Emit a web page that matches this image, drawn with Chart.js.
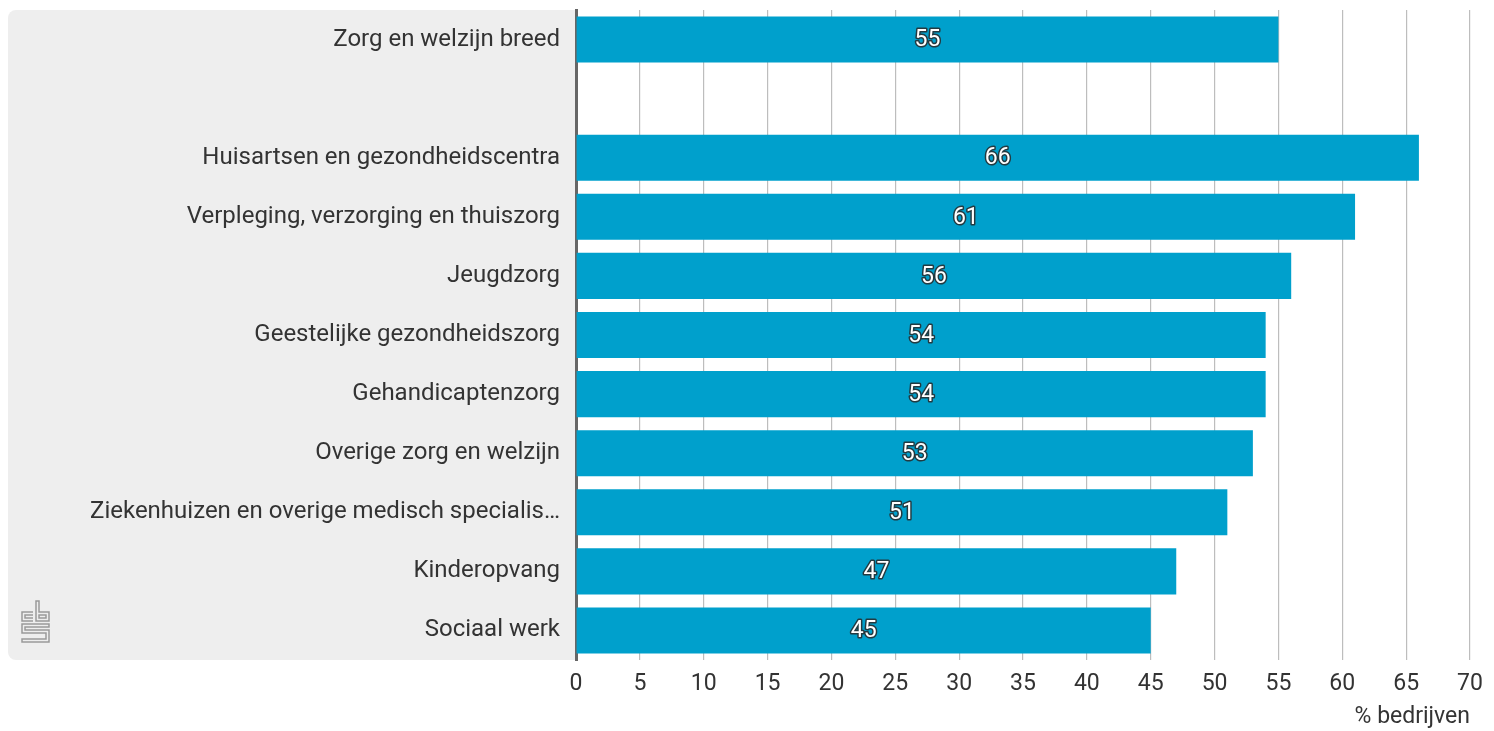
<!DOCTYPE html>
<html>
<head>
<meta charset="utf-8">
<script src="https://cdn.jsdelivr.net/npm/chart.js@4/dist/chart.umd.min.js"></script>
<style>
html,body{margin:0;padding:0;background:#fff;}
#wrap{position:relative;width:1494px;height:731px;}
</style>
</head>
<body>
<div id="wrap"><canvas id="c" width="1494" height="731"></canvas></div>
<script>
const categories = [
  'Zorg en welzijn breed',
  '',
  'Huisartsen en gezondheidscentra',
  'Verpleging, verzorging en thuiszorg',
  'Jeugdzorg',
  'Geestelijke gezondheidszorg',
  'Gehandicaptenzorg',
  'Overige zorg en welzijn',
  'Ziekenhuizen en overige medisch specialis…',
  'Kinderopvang',
  'Sociaal werk'
];
const values = [55, null, 66, 61, 56, 54, 54, 53, 51, 47, 45];
const axisTitle = '% bedrijven';

const FONT = 'Roboto, "Open Sans", sans-serif';

const panelPlugin = {
  id: 'panel',
  beforeDraw(chart) {
    const ctx = chart.ctx, a = chart.chartArea;
    const x0 = 8, y0 = a.top, x1 = a.left, y1 = a.bottom, r = 8;
    ctx.save();
    ctx.fillStyle = '#eeeeee';
    ctx.beginPath();
    ctx.moveTo(x0 + r, y0);
    ctx.lineTo(x1, y0);
    ctx.lineTo(x1, y1);
    ctx.lineTo(x0 + r, y1);
    ctx.arcTo(x0, y1, x0, y1 - r, r);
    ctx.lineTo(x0, y0 + r);
    ctx.arcTo(x0, y0, x0 + r, y0, r);
    ctx.closePath();
    ctx.fill();
    // cbs logo approximation
    ctx.strokeStyle = '#9a9a9a';
    ctx.lineWidth = 1.5;
    const lx = 22, ly = 601;
    ctx.beginPath();
    ctx.moveTo(33, ly + 11); ctx.lineTo(lx, ly + 11); ctx.lineTo(lx, ly + 20); ctx.lineTo(33, ly + 20);
    ctx.moveTo(33, ly + 14); ctx.lineTo(25, ly + 14); ctx.lineTo(25, ly + 17); ctx.lineTo(33, ly + 17);
    ctx.moveTo(36, ly); ctx.lineTo(39, ly); ctx.lineTo(39, ly + 11); ctx.lineTo(49, ly + 11); ctx.lineTo(49, ly + 20); ctx.lineTo(36, ly + 20); ctx.closePath();
    ctx.moveTo(39, ly + 14); ctx.lineTo(46, ly + 14); ctx.lineTo(46, ly + 17); ctx.lineTo(39, ly + 17); ctx.closePath();
    ctx.moveTo(lx, ly + 23); ctx.lineTo(49, ly + 23); ctx.lineTo(49, ly + 26); ctx.lineTo(25, ly + 26); ctx.lineTo(25, ly + 29);
    ctx.lineTo(49, ly + 29); ctx.lineTo(49, ly + 41); ctx.lineTo(lx, ly + 41); ctx.lineTo(lx, ly + 38); ctx.lineTo(46, ly + 38);
    ctx.lineTo(46, ly + 32); ctx.lineTo(lx, ly + 32); ctx.closePath();
    ctx.stroke();
    ctx.restore();
  }
};

const labelPlugin = {
  id: 'valueLabels',
  afterDatasetsDraw(chart) {
    const ctx = chart.ctx;
    const meta = chart.getDatasetMeta(0);
    ctx.save();
    ctx.font = '23px ' + FONT;
    ctx.textAlign = 'center';
    ctx.textBaseline = 'middle';
    ctx.lineJoin = 'round';
    meta.data.forEach((bar, i) => {
      const v = values[i];
      if (v === null) return;
      const x = (bar.base + bar.x) / 2;
      const y = bar.y + 1;
      ctx.strokeStyle = 'rgba(40,40,40,0.85)';
      ctx.lineWidth = 3;
      ctx.strokeText(String(v), x, y);
      ctx.fillStyle = '#ffffff';
      ctx.fillText(String(v), x, y);
    });
    ctx.restore();
  }
};

new Chart(document.getElementById('c'), {
  type: 'bar',
  data: {
    labels: categories,
    datasets: [{
      data: values,
      backgroundColor: '#00a0cc',
      borderWidth: 0,
      barPercentage: 0.78,
      categoryPercentage: 1.0
    }]
  },
  options: {
    indexAxis: 'y',
    responsive: false,
    animation: false,
    devicePixelRatio: 1,
    layout: { padding: { top: 10, right: 24, left: 0, bottom: 0 } },
    plugins: { legend: { display: false }, tooltip: { enabled: false } },
    scales: {
      x: {
        min: 0, max: 70,
        ticks: { stepSize: 5, color: '#333', font: { family: FONT, size: 23 }, padding: 10 },
        grid: { color: '#bdbdbd', lineWidth: 1.2, drawTicks: false },
        border: { display: false },
        title: { display: true, text: axisTitle, align: 'end', color: '#333', font: { family: FONT, size: 23, lineHeight: 1.0 }, padding: { top: 0, bottom: 2 } },
        afterFit(scale) { scale.height = 71; scale.paddingBottom = 0; }
      },
      y: {
        ticks: { color: '#333', font: { family: FONT, size: 24 }, padding: 16, autoSkip: false },
        grid: { display: false, drawTicks: false },
        border: { display: true, color: '#666666', width: 3 },
        afterFit(scale) { scale.width = 576; scale.paddingTop = 0; scale.paddingBottom = 0; }
      }
    }
  },
  plugins: [panelPlugin, labelPlugin]
});
</script>
</body>
</html>
